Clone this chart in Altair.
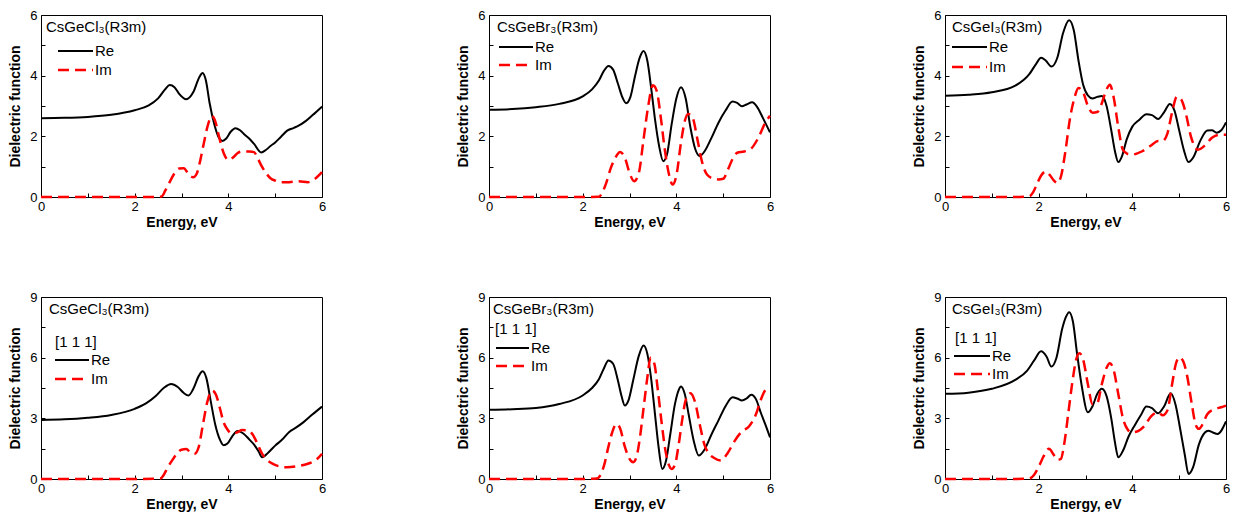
import altair as alt
import pandas as pd

# ---------------- text / tick data ----------------
TITLES = ["CsGeCl₃(R3m)", "CsGeBr₃(R3m)", "CsGeI₃(R3m)"]
SERIES = ["Re", "Im"]
DIRECTION = "[1 1 1]"
X_TITLE = "Energy, eV"
Y_TITLE = "Dielectric function"
E_TICKS = [0, 1, 2, 3, 4, 5, 6]
TOP_Y_TICKS = [0, 1, 2, 3, 4, 5, 6]
BOT_Y_TICKS = [0, 1.5, 3, 4.5, 6, 7.5, 9]

# ---------------- panel 1: CsGeCl3 ----------------
p1_re_e = [0, 0.5, 1, 1.5, 2, 2.3, 2.5, 2.65, 2.75, 2.85, 2.95, 3.1, 3.25, 3.38, 3.45, 3.52, 3.6, 3.7, 3.8, 3.88, 3.95,
           4.05, 4.15, 4.25, 4.35, 4.45, 4.55, 4.7, 4.8, 4.9, 5.0, 5.12, 5.25, 5.4, 5.5, 5.65, 5.8, 6.0]
p1_re = [2.6, 2.61, 2.64, 2.71, 2.86, 3.02, 3.25, 3.55, 3.69, 3.62, 3.4, 3.22, 3.45, 3.95, 4.09, 3.85, 3.1, 2.4, 1.95, 1.85,
         1.92, 2.15, 2.27, 2.2, 2.05, 1.92, 1.75, 1.47, 1.55, 1.68, 1.8, 1.98, 2.18, 2.28, 2.35, 2.5, 2.7, 2.98]
p1_im_e = [0, 1, 2, 2.5, 2.58, 2.65, 2.75, 2.85, 2.95, 3.05, 3.15, 3.25, 3.32, 3.4, 3.48, 3.56, 3.65, 3.72, 3.8, 3.9, 4.0,
           4.1, 4.2, 4.3, 4.45, 4.55, 4.62, 4.7, 4.8, 4.9, 5.0, 5.1, 5.3, 5.5, 5.7, 5.85, 6.0]
p1_im = [0, 0, 0, 0, 0.02, 0.2, 0.5, 0.78, 0.94, 0.95, 0.75, 0.65, 0.75, 1.2, 1.8, 2.35, 2.67, 2.5, 2.0, 1.45, 1.22,
         1.3, 1.45, 1.5, 1.5, 1.48, 1.3, 1.05, 0.8, 0.62, 0.54, 0.49, 0.49, 0.52, 0.49, 0.6, 0.82]

# ---------------- panel 2: CsGeBr3 ----------------
p2_re_e = [0, 0.5, 1, 1.5, 2, 2.2, 2.35, 2.45, 2.55, 2.65, 2.75, 2.85, 2.93, 3.02, 3.12, 3.22, 3.3, 3.38, 3.47, 3.55,
           3.63, 3.72, 3.8, 3.9, 4.0, 4.1, 4.2, 4.3, 4.4, 4.5, 4.6, 4.75, 4.9, 5.05, 5.2, 5.3, 5.4, 5.5, 5.62, 5.72,
           5.85, 6.0]
p2_re = [2.88, 2.9, 2.96, 3.07, 3.32, 3.55, 3.85, 4.15, 4.32, 4.2, 3.75, 3.28, 3.09, 3.3, 4.0, 4.6, 4.81, 4.5, 3.5, 2.5,
         1.7, 1.18, 1.4, 2.4, 3.25, 3.62, 3.25, 2.3, 1.6, 1.35, 1.5, 1.95, 2.45, 2.85, 3.15, 3.1, 2.99, 3.05, 3.12, 2.98,
         2.6, 2.13]
p2_im_e = [0, 1, 2, 2.35, 2.42, 2.5, 2.6, 2.7, 2.8, 2.9, 3.0, 3.1, 3.2, 3.3, 3.4, 3.5, 3.58, 3.67, 3.75, 3.85, 3.92,
           4.0, 4.1, 4.18, 4.25, 4.35, 4.45, 4.55, 4.65, 4.8, 4.9, 5.0, 5.1, 5.2, 5.3, 5.45, 5.6, 5.75, 5.9, 6.0]
p2_im = [0, 0, 0, 0.01, 0.15, 0.45, 0.95, 1.3, 1.48, 1.3, 0.8, 0.52, 0.8, 1.9, 3.0, 3.68, 3.5, 2.6, 1.6, 0.7, 0.41,
         0.7, 1.8, 2.5, 2.74, 2.6, 1.9, 1.15, 0.75, 0.6, 0.58, 0.6, 0.9, 1.25, 1.46, 1.5, 1.6, 1.95, 2.45, 2.68]

# ---------------- panel 3: CsGeI3 ----------------
p3_re_e = [0, 0.5, 1, 1.5, 1.8, 1.95, 2.05, 2.15, 2.27, 2.4, 2.52, 2.65, 2.75, 2.85, 2.95, 3.05, 3.15, 3.25, 3.35, 3.45,
           3.55, 3.63, 3.7, 3.78, 3.88, 4.0, 4.15, 4.3, 4.42, 4.55, 4.68, 4.8, 4.9, 5.0, 5.1, 5.2, 5.3, 5.45, 5.6, 5.7,
           5.8, 5.9, 6.0]
p3_re = [3.34, 3.37, 3.45, 3.67, 4.05, 4.4, 4.59, 4.5, 4.3, 4.6, 5.4, 5.83, 5.5, 4.5, 3.7, 3.35, 3.25, 3.3, 3.33, 3.0,
         2.2, 1.5, 1.15, 1.35, 1.9, 2.32, 2.55, 2.73, 2.7, 2.57, 2.8, 3.07, 2.85, 2.2, 1.55, 1.15, 1.3, 1.85, 2.19, 2.2,
         2.12, 2.2, 2.46]
p3_im_e = [0, 1, 1.5, 1.8, 1.88, 1.97, 2.05, 2.15, 2.25, 2.32, 2.4, 2.48, 2.57, 2.67, 2.77, 2.85, 2.95, 3.05, 3.15, 3.25,
           3.35, 3.45, 3.52, 3.6, 3.7, 3.8, 3.9, 4.0, 4.2, 4.4, 4.55, 4.65, 4.75, 4.85, 4.95, 5.05, 5.15, 5.25, 5.4,
           5.55, 5.7, 5.85, 6.0]
p3_im = [0, 0, 0, 0.02, 0.15, 0.45, 0.7, 0.84, 0.7, 0.55, 0.46, 0.7, 1.5, 2.6, 3.3, 3.59, 3.45, 3.0, 2.78, 2.8, 3.1,
         3.55, 3.7, 3.3, 2.3, 1.55, 1.42, 1.4, 1.5, 1.7, 1.85, 1.85, 2.1, 2.8, 3.31, 3.2, 2.7, 2.0, 1.56, 1.7, 1.95, 2.05,
         2.05]

# ---------------- panel 4: CsGeCl3 [1 1 1] ----------------
p4_re_e = [0, 0.5, 1, 1.5, 2, 2.25, 2.45, 2.62, 2.78, 2.92, 3.05, 3.15, 3.25, 3.37, 3.45, 3.53, 3.62, 3.72, 3.82, 3.9,
           3.98, 4.08, 4.2, 4.32, 4.45, 4.55, 4.65, 4.72, 4.85, 5.0, 5.15, 5.3, 5.45, 5.6, 5.8, 6.0]
p4_re = [2.92, 2.95, 3.03, 3.17, 3.47, 3.75, 4.1, 4.5, 4.7, 4.55, 4.25, 4.13, 4.45, 5.1, 5.33, 5.0, 3.9, 2.7, 1.95, 1.67,
         1.75, 2.1, 2.37, 2.25, 1.95, 1.7, 1.35, 1.08, 1.3, 1.65, 1.95, 2.33, 2.55, 2.8, 3.2, 3.58]
p4_im_e = [0, 1, 2, 2.55, 2.62, 2.7, 2.8, 2.9, 3.0, 3.1, 3.2, 3.28, 3.37, 3.45, 3.55, 3.65, 3.73, 3.82, 3.9, 3.98, 4.08,
           4.18, 4.3, 4.42, 4.52, 4.62, 4.72, 4.82, 4.95, 5.1, 5.25, 5.45, 5.65, 5.8, 5.9, 6.0]
p4_im = [0, 0, 0, 0.02, 0.2, 0.55, 0.92, 1.25, 1.45, 1.48, 1.3, 1.25, 1.6, 2.6, 3.8, 4.37, 4.2, 3.5, 2.8, 2.45, 2.25,
         2.3, 2.42, 2.4, 2.2, 1.75, 1.25, 0.95, 0.75, 0.62, 0.58, 0.62, 0.72, 0.85, 1.0, 1.25]

# ---------------- panel 5: CsGeBr3 [1 1 1] ----------------
p5_re_e = [0, 0.5, 1, 1.5, 2, 2.2, 2.35, 2.45, 2.55, 2.65, 2.75, 2.83, 2.9, 2.98, 3.08, 3.2, 3.3, 3.38, 3.46, 3.54, 3.62,
           3.7, 3.78, 3.87, 3.97, 4.05, 4.1, 4.18, 4.27, 4.37, 4.48, 4.6, 4.75, 4.9, 5.05, 5.2, 5.3, 5.4, 5.5, 5.6, 5.7,
           5.8, 5.9, 6.0]
p5_re = [3.42, 3.45, 3.51, 3.71, 4.13, 4.5, 4.95, 5.45, 5.86, 5.7, 4.9, 4.1, 3.63, 3.9, 4.9, 6.1, 6.6, 6.2, 5.0, 3.3,
         1.6, 0.5, 0.9, 2.2, 3.7, 4.4, 4.57, 4.2, 3.1, 1.9, 1.16, 1.45, 2.2, 2.9, 3.6, 4.04, 3.98, 3.88, 3.98, 4.17, 3.95,
         3.3, 2.7, 2.06]
p5_im_e = [0, 1, 2, 2.3, 2.38, 2.46, 2.55, 2.63, 2.72, 2.8, 2.9, 3.0, 3.08, 3.15, 3.22, 3.3, 3.38, 3.45, 3.53, 3.6, 3.68,
           3.76, 3.84, 3.9, 3.97, 4.05, 4.13, 4.2, 4.3, 4.4, 4.5, 4.6, 4.7, 4.8, 4.95, 5.1, 5.25, 5.4, 5.55, 5.7, 5.8,
           5.9, 6.0]
p5_im = [0, 0, 0, 0.02, 0.2, 0.7, 1.6, 2.3, 2.72, 2.5, 1.6, 1.0, 0.83, 1.1, 2.0, 3.5, 5.0, 6.0, 5.7, 4.5, 2.9, 1.5, 0.7,
         0.5, 0.7, 1.7, 3.0, 3.9, 4.24, 3.8, 2.7, 1.7, 1.25, 1.05, 0.91, 1.3, 1.9, 2.35, 2.6, 3.2, 3.9, 4.4, 4.54]

# ---------------- panel 6: CsGeI3 [1 1 1] ----------------
p6_re_e = [0, 0.5, 1, 1.5, 1.75, 1.9, 2.05, 2.17, 2.27, 2.38, 2.5, 2.58, 2.65, 2.73, 2.82, 2.92, 3.05, 3.15, 3.25, 3.35,
           3.45, 3.55, 3.63, 3.7, 3.8, 3.92, 4.05, 4.18, 4.3, 4.42, 4.55, 4.68, 4.82, 4.92, 5.02, 5.12, 5.2, 5.3, 5.42,
           5.55, 5.62, 5.72, 5.82, 6.0]
p6_re = [4.21, 4.27, 4.46, 4.9, 5.35, 5.85, 6.32, 6.05, 5.56, 6.0, 7.4, 8.0, 8.25, 7.8, 6.2, 4.6, 3.3, 3.6, 4.2, 4.46,
         4.1, 3.0, 1.8, 1.07, 1.4, 2.1, 2.65, 3.15, 3.58, 3.5, 3.25, 3.6, 4.24, 3.7, 2.5, 1.2, 0.25, 0.6, 1.7, 2.3, 2.39,
         2.3, 2.23, 2.85]
p6_im_e = [0, 1, 1.5, 1.8, 1.9, 2.0, 2.1, 2.22, 2.32, 2.4, 2.47, 2.55, 2.63, 2.72, 2.8, 2.87, 2.95, 3.05, 3.15, 3.25,
           3.35, 3.45, 3.52, 3.6, 3.7, 3.8, 3.9, 3.97, 4.1, 4.25, 4.4, 4.55, 4.65, 4.75, 4.85, 4.93, 5.0, 5.08, 5.17,
           5.27, 5.35, 5.42, 5.5, 5.6, 5.75, 5.9, 6.0]
p6_im = [0, 0, 0, 0.02, 0.2, 0.6, 1.1, 1.49, 1.2, 0.95, 0.98, 1.8, 3.2, 4.8, 5.9, 6.22, 5.9, 4.7, 3.7, 3.75, 4.7, 5.5,
         5.73, 5.4, 4.2, 3.0, 2.45, 2.31, 2.35, 2.6, 3.1, 3.3, 3.15, 3.4, 4.7, 5.7, 6.02, 5.85, 5.1, 3.7, 2.7, 2.48, 2.7,
         3.2, 3.45, 3.55, 3.63]

# ---------------- styling ----------------
FONT = "Liberation Sans"
BLACK = "#000000"
RED = "#ff0000"
DASH = [11, 6]
W, H = 281, 182
TXT = 15


def panel(re_e, re_v, im_e, im_v, ymax, yticks, ymajor, title, lay, direction=None):
    re_df = pd.DataFrame({"E": re_e, "v": re_v})
    im_df = pd.DataFrame({"E": im_e, "v": im_v})
    common = dict(offset=-4, tickSize=4, domain=False, grid=False, labelOverlap=False,
                  labelFlush=False, format="d")
    x = alt.X("E:Q", scale=alt.Scale(domain=[0, 6], nice=False, zero=False),
              axis=alt.Axis(values=E_TICKS, title=X_TITLE,
                            labelExpr="datum.value % 2 == 0 ? datum.label : ''",
                            labelPadding=3, titlePadding=2, **common))
    y = alt.Y("v:Q", scale=alt.Scale(domain=[0, ymax], nice=False),
              axis=alt.Axis(values=yticks, title=Y_TITLE,
                            labelExpr=f"datum.value % {ymajor} == 0 ? datum.label : ''",
                            labelPadding=4, titlePadding=7, **common))
    re_line = alt.Chart(re_df).mark_line(color=BLACK, strokeWidth=2, interpolate="monotone").encode(x=x, y=y)
    im_line = alt.Chart(im_df).mark_line(color=RED, strokeWidth=2.5, strokeDash=DASH,
                                         interpolate="monotone").encode(x=x, y=y)

    ttl = alt.Chart(pd.DataFrame({"t": [title]})).mark_text(
        align="left", baseline="middle", font=FONT, fontSize=TXT, color=BLACK
    ).encode(x=alt.value(lay["tx"]), y=alt.value(lay["ty"]), text="t:N")

    layers = [re_line, im_line, ttl]
    if direction is not None:
        layers.append(alt.Chart(pd.DataFrame({"t": [direction]})).mark_text(
            align="left", baseline="middle", font=FONT, fontSize=TXT, color=BLACK
        ).encode(x=alt.value(lay["dx"]), y=alt.value(lay["dy"]), text="t:N"))

    lx1, lx2, ly_re, ly_im = lay["lx1"], lay["lx2"], lay["ly_re"], lay["ly_im"]
    one = pd.DataFrame({"k": [0]})
    layers.append(alt.Chart(one).mark_rule(color=BLACK, strokeWidth=2).encode(
        x=alt.value(lx1), x2=alt.value(lx2), y=alt.value(ly_re)))
    layers.append(alt.Chart(one).mark_rule(color=RED, strokeWidth=2.5, strokeDash=DASH).encode(
        x=alt.value(lx1), x2=alt.value(lx2), y=alt.value(ly_im)))
    layers.append(alt.Chart(pd.DataFrame({"t": [SERIES[0]]})).mark_text(
        align="left", baseline="middle", font=FONT, fontSize=TXT, color=BLACK
    ).encode(x=alt.value(lx2 + 2), y=alt.value(ly_re), text="t:N"))
    layers.append(alt.Chart(pd.DataFrame({"t": [SERIES[1]]})).mark_text(
        align="left", baseline="middle", font=FONT, fontSize=TXT, color=BLACK
    ).encode(x=alt.value(lx2 + 2), y=alt.value(ly_im), text="t:N"))

    return alt.layer(*layers).properties(width=W, height=H)


L1 = dict(tx=5, ty=12, lx1=17, lx2=52, ly_re=36, ly_im=55)
L2 = dict(tx=8, ty=12, lx1=10, lx2=44, ly_re=32, ly_im=50)
L3 = dict(tx=7, ty=12, lx1=7, lx2=42, ly_re=32, ly_im=52)
L4 = dict(tx=8, ty=12, dx=14, dy=45, lx1=14, lx2=48, ly_re=63, ly_im=82)
L5 = dict(tx=4, ty=12, dx=6, dy=32, lx1=7, lx2=40, ly_re=51, ly_im=69)
L6 = dict(tx=7, ty=12, dx=10, dy=41, lx1=9, lx2=45, ly_re=59, ly_im=77)

c1 = panel(p1_re_e, p1_re, p1_im_e, p1_im, 6, TOP_Y_TICKS, 2, TITLES[0], L1)
c2 = panel(p2_re_e, p2_re, p2_im_e, p2_im, 6, TOP_Y_TICKS, 2, TITLES[1], L2)
c3 = panel(p3_re_e, p3_re, p3_im_e, p3_im, 6, TOP_Y_TICKS, 2, TITLES[2], L3)
c4 = panel(p4_re_e, p4_re, p4_im_e, p4_im, 9, BOT_Y_TICKS, 3, TITLES[0], L4, DIRECTION)
c5 = panel(p5_re_e, p5_re, p5_im_e, p5_im, 9, BOT_Y_TICKS, 3, TITLES[1], L5, DIRECTION)
c6 = panel(p6_re_e, p6_re, p6_im_e, p6_im, 9, BOT_Y_TICKS, 3, TITLES[2], L6, DIRECTION)

top = alt.hconcat(alt.hconcat(c1, c2, spacing=128), c3, spacing=136)
bot = alt.hconcat(alt.hconcat(c4, c5, spacing=128), c6, spacing=136)

chart = alt.vconcat(top, bot, spacing=60).properties(
    padding={"left": 0, "top": 0, "right": 0, "bottom": 0}
).configure_view(
    stroke=BLACK, strokeWidth=1
).configure_axis(
    labelFont=FONT, titleFont=FONT, labelFontSize=13, titleFontSize=14, titleFontWeight="bold",
    labelColor=BLACK, titleColor=BLACK, tickColor=BLACK, tickWidth=1
)

chart.save("out.html", embed_options={"renderer": "svg", "actions": False})
